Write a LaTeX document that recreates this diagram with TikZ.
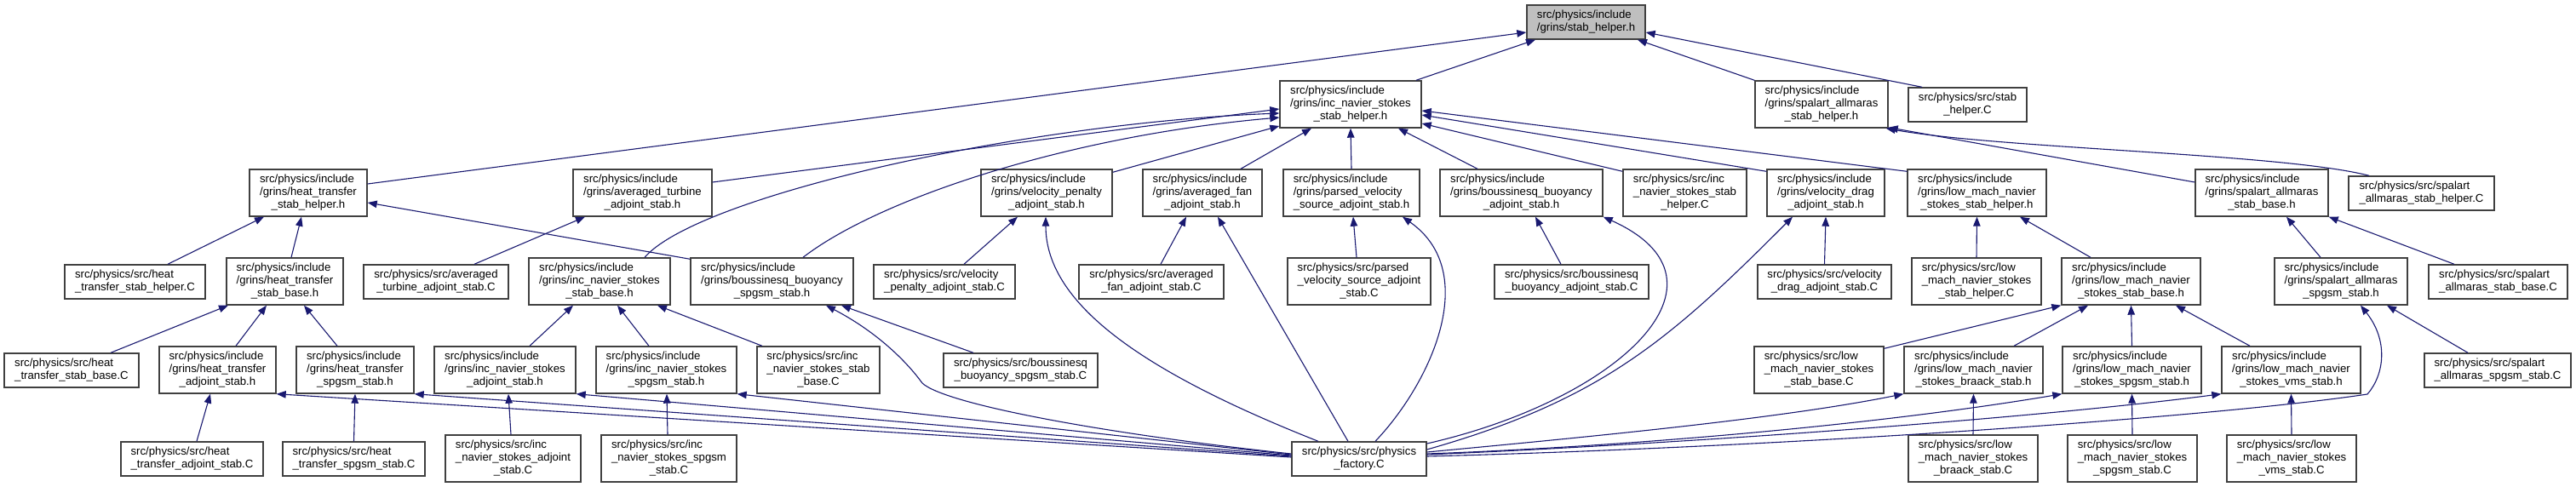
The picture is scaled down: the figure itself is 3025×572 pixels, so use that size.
\documentclass[tikz,border=0pt]{standalone}
\usepackage{fontspec}
\setmainfont{Liberation Sans}
\usetikzlibrary{arrows.meta}
\definecolor{edgeblue}{HTML}{191970}
\definecolor{boxgray}{HTML}{BFBFBF}
\definecolor{boxline}{HTML}{404040}
\newcommand\lbl[2]{\begin{tabular}{@{}l@{}}#1\\\multicolumn{1}{@{}c@{}}{#2}\end{tabular}}
\newcommand\bx[7][]{\node[box,#1,minimum width={(#5-#3)*1pt},minimum height={(#6-#4)*1pt}] (#2) at ({(#3+#5)/2},{(#4+#6)/2}) {#7};}
\begin{document}
\begin{tikzpicture}[x=1pt,y=-1pt,
  box/.style={draw=boxline,line width=1.4pt,fill=white,inner sep=0pt,font=\fontsize{13.2}{15}\selectfont},
  dep/.style={draw=edgeblue,line width=1.1pt,-{Triangle[length=11pt,width=8.5pt]}}]
\useasboundingbox (0,0) rectangle (3025,572);
% row 0-1
\bx[fill=boxgray]{sh}{1793}{6}{1932}{46}{\lbl{src/physics/include}{/grins/stab\_helper.h}}
\bx{insh}{1503}{95}{1669}{150}{\lbl{src/physics/include\\/grins/inc\_navier\_stokes}{\_stab\_helper.h}}
\bx{sash}{2061}{95}{2217}{150}{\lbl{src/physics/include\\/grins/spalart\_allmaras}{\_stab\_helper.h}}
\bx{shC}{2241}{103}{2380}{143}{\lbl{src/physics/src/stab}{\_helper.C}}
% row 2
\bx{htsh}{293}{199}{431}{254}{\lbl{src/physics/include\\/grins/heat\_transfer}{\_stab\_helper.h}}
\bx{atas}{673}{199}{836}{254}{\lbl{src/physics/include\\/grins/averaged\_turbine}{\_adjoint\_stab.h}}
\bx{vpas}{1152}{199}{1306}{254}{\lbl{src/physics/include\\/grins/velocity\_penalty}{\_adjoint\_stab.h}}
\bx{afas}{1342}{199}{1482}{254}{\lbl{src/physics/include\\/grins/averaged\_fan}{\_adjoint\_stab.h}}
\bx{pvsas}{1507}{199}{1667}{254}{\lbl{src/physics/include\\/grins/parsed\_velocity}{\_source\_adjoint\_stab.h}}
\bx{bbas}{1691}{199}{1882}{254}{\lbl{src/physics/include\\/grins/boussinesq\_buoyancy}{\_adjoint\_stab.h}}
\bx{inshC}{1906}{199}{2051}{254}{\lbl{src/physics/src/inc\\\_navier\_stokes\_stab}{\_helper.C}}
\bx{vdas}{2075}{199}{2213}{254}{\lbl{src/physics/include\\/grins/velocity\_drag}{\_adjoint\_stab.h}}
\bx{lmsh}{2240}{199}{2403}{254}{\lbl{src/physics/include\\/grins/low\_mach\_navier}{\_stokes\_stab\_helper.h}}
\bx{sasb}{2578}{199}{2734}{254}{\lbl{src/physics/include\\/grins/spalart\_allmaras}{\_stab\_base.h}}
\bx{sashC}{2758}{207}{2929}{247}{\lbl{src/physics/src/spalart}{\_allmaras\_stab\_helper.C}}
% row 3
\bx{htshC}{76}{311}{241}{351}{\lbl{src/physics/src/heat}{\_transfer\_stab\_helper.C}}
\bx{htsb}{266}{303}{403}{358}{\lbl{src/physics/include\\/grins/heat\_transfer}{\_stab\_base.h}}
\bx{atasC}{427}{311}{597}{351}{\lbl{src/physics/src/averaged}{\_turbine\_adjoint\_stab.C}}
\bx{insb}{621}{303}{787}{358}{\lbl{src/physics/include\\/grins/inc\_navier\_stokes}{\_stab\_base.h}}
\bx{bbss}{811}{303}{1002}{358}{\lbl{src/physics/include\\/grins/boussinesq\_buoyancy}{\_spgsm\_stab.h}}
\bx{vpasC}{1026}{311}{1192}{351}{\lbl{src/physics/src/velocity}{\_penalty\_adjoint\_stab.C}}
\bx{afasC}{1267}{311}{1437}{351}{\lbl{src/physics/src/averaged}{\_fan\_adjoint\_stab.C}}
\bx{pvsasC}{1512}{303}{1680}{358}{\lbl{src/physics/src/parsed\\\_velocity\_source\_adjoint}{\_stab.C}}
\bx{bbasC}{1755}{311}{1936}{351}{\lbl{src/physics/src/boussinesq}{\_buoyancy\_adjoint\_stab.C}}
\bx{vdasC}{2064}{311}{2221}{351}{\lbl{src/physics/src/velocity}{\_drag\_adjoint\_stab.C}}
\bx{lmshC}{2245}{303}{2397}{358}{\lbl{src/physics/src/low\\\_mach\_navier\_stokes}{\_stab\_helper.C}}
\bx{lmsb}{2421}{303}{2584}{358}{\lbl{src/physics/include\\/grins/low\_mach\_navier}{\_stokes\_stab\_base.h}}
\bx{sass}{2671}{303}{2827}{358}{\lbl{src/physics/include\\/grins/spalart\_allmaras}{\_spgsm\_stab.h}}
\bx{sasbC}{2852}{311}{3015}{351}{\lbl{src/physics/src/spalart}{\_allmaras\_stab\_base.C}}
% row 4
\bx{htsbC}{5}{415}{163}{455}{\lbl{src/physics/src/heat}{\_transfer\_stab\_base.C}}
\bx{htas}{187}{407}{324}{462}{\lbl{src/physics/include\\/grins/heat\_transfer}{\_adjoint\_stab.h}}
\bx{htss}{348}{407}{486}{462}{\lbl{src/physics/include\\/grins/heat\_transfer}{\_spgsm\_stab.h}}
\bx{inas}{510}{407}{676}{462}{\lbl{src/physics/include\\/grins/inc\_navier\_stokes}{\_adjoint\_stab.h}}
\bx{inss}{700}{407}{865}{462}{\lbl{src/physics/include\\/grins/inc\_navier\_stokes}{\_spgsm\_stab.h}}
\bx{insbC}{889}{407}{1033}{462}{\lbl{src/physics/src/inc\\\_navier\_stokes\_stab}{\_base.C}}
\bx{bbssC}{1108}{415}{1289}{455}{\lbl{src/physics/src/boussinesq}{\_buoyancy\_spgsm\_stab.C}}
\bx{lmsbC}{2060}{407}{2212}{462}{\lbl{src/physics/src/low\\\_mach\_navier\_stokes}{\_stab\_base.C}}
\bx{lmbs}{2236}{407}{2399}{462}{\lbl{src/physics/include\\/grins/low\_mach\_navier}{\_stokes\_braack\_stab.h}}
\bx{lmss}{2422}{407}{2585}{462}{\lbl{src/physics/include\\/grins/low\_mach\_navier}{\_stokes\_spgsm\_stab.h}}
\bx{lmvs}{2609}{407}{2772}{462}{\lbl{src/physics/include\\/grins/low\_mach\_navier}{\_stokes\_vms\_stab.h}}
\bx{sassC}{2847}{415}{3019}{455}{\lbl{src/physics/src/spalart}{\_allmaras\_spgsm\_stab.C}}
% row 5
\bx{htasC}{142}{519}{309}{559}{\lbl{src/physics/src/heat}{\_transfer\_adjoint\_stab.C}}
\bx{htssC}{332}{519}{499}{559}{\lbl{src/physics/src/heat}{\_transfer\_spgsm\_stab.C}}
\bx{inasC}{523}{511}{682}{566}{\lbl{src/physics/src/inc\\\_navier\_stokes\_adjoint}{\_stab.C}}
\bx{inssC}{706}{511}{865}{566}{\lbl{src/physics/src/inc\\\_navier\_stokes\_spgsm}{\_stab.C}}
\bx{pf}{1517}{519}{1675}{559}{\lbl{src/physics/src/physics}{\_factory.C}}
\bx{lmbsC}{2241}{511}{2393}{566}{\lbl{src/physics/src/low\\\_mach\_navier\_stokes}{\_braack\_stab.C}}
\bx{lmssC}{2428}{511}{2580}{566}{\lbl{src/physics/src/low\\\_mach\_navier\_stokes}{\_spgsm\_stab.C}}
\bx{lmvsC}{2615}{511}{2767}{566}{\lbl{src/physics/src/low\\\_mach\_navier\_stokes}{\_vms\_stab.C}}
% edges to stab_helper.h
\draw[dep] ([yshift=10.5pt]htsh.east) -- ([yshift=-12pt]sh.west);
\draw[dep] ([xshift=77pt]insh.north) -- ([xshift=-59.5pt]sh.south);
\draw[dep] (sash.north west) -- ([xshift=60.5pt]sh.south);
\draw[dep] ([xshift=-53.5pt]shC.north) -- ([yshift=-12pt]sh.east);
% edges to inc_navier_stokes_stab_helper.h
\draw[dep] ([yshift=12.5pt]atas.east) -- ([yshift=-5.5pt]insh.west);
\draw[dep] ([xshift=53pt]insb.north) .. controls (820,230) and (1200,145) .. ([yshift=-10.5pt]insh.west);
\draw[dep] ([xshift=36.5pt]bbss.north) .. controls (1030,235) and (1250,160) .. ([yshift=-15.5pt]insh.west);
\draw[dep] ([yshift=-4pt]vpas.north east) -- ([yshift=-25.5pt]insh.west);
\draw[dep] ([xshift=45pt]afas.north) -- ([xshift=-46pt]insh.south);
\draw[dep] (pvsas.north) -- (insh.south);
\draw[dep] ([xshift=-51.5pt]bbas.north) -- ([xshift=56pt]insh.south);
\draw[dep] ([yshift=-3pt]inshC.north west) -- ([yshift=-22.5pt]insh.east);
\draw[dep] ([yshift=-3pt]vdas.north west) -- ([yshift=-12.5pt]insh.east);
\draw[dep] ([yshift=-3pt]lmsh.north west) -- ([yshift=-7.5pt]insh.east);
% spalart helper
\draw[dep] ([yshift=12.5pt]sasb.west) -- ([yshift=1pt]sash.south east);
\draw[dep] ([xshift=-61.5pt]sashC.north) .. controls (2680,180) and (2350,175) .. ([xshift=-3pt]sash.south east);
% inc ns stab base
\draw[dep] ([xshift=29pt]inas.north) -- ([xshift=-31pt]insb.south);
\draw[dep] ([xshift=-20.5pt]inss.north) -- ([xshift=21pt]insb.south);
\draw[dep] ([xshift=-66pt]insbC.north) -- ([xshift=68pt]insb.south);
% boussinesq spgsm
\draw[dep] ([xshift=-55.5pt]bbssC.north) -- ([xshift=81.5pt]bbss.south);
\draw[dep] ([yshift=6pt]pf.west) .. controls (1300,510) and (1110,475) .. (1083,450) .. controls (1065,425) and (1030,390) .. ([xshift=63.5pt]bbss.south);
% heat transfer
\draw[dep] ([xshift=38.5pt]htshC.north) -- ([xshift=-52pt]htsh.south);
\draw[dep] ([xshift=7.5pt]htsb.north) -- ([xshift=-8pt]htsh.south);
\draw[dep] ([yshift=-2pt]bbss.north west) -- ([yshift=-11.5pt]htsh.east);
\draw[dep] ([xshift=46pt]htsbC.north) -- ([xshift=-66.5pt]htsb.south);
\draw[dep] ([xshift=21.5pt]htas.north) -- ([xshift=-21.5pt]htsb.south);
\draw[dep] ([xshift=-21pt]htss.north) -- ([xshift=22.5pt]htsb.south);
\draw[dep] ([xshift=5.5pt]htasC.north) -- ([xshift=-8.5pt]htas.south);
\draw[dep] (htssC.north) -- (htss.south);
% physics factory
\draw[dep] ([yshift=2pt]pf.west) -- (htas.south east);
\draw[dep] ([yshift=3pt]pf.west) -- (htss.south east);
\draw[dep] ([yshift=4pt]pf.west) -- (inas.south east);
\draw[dep] ([yshift=5pt]pf.west) -- (inss.south east);
\draw[dep] ([xshift=-48pt]pf.north) .. controls (1350,440) and (1228,360) .. ([xshift=-1pt]vpas.south);
\draw[dep] ([xshift=-13pt]pf.north) -- ([xshift=18pt]afas.south);
\draw[dep] ([xshift=19pt]pf.north) .. controls (1680,450) and (1740,320) .. ([xshift=60pt]pvsas.south);
\draw[dep] ([yshift=18pt]pf.east) .. controls (1900,470) and (2050,330) .. (bbas.south east);
\draw[dep] ([yshift=11pt]pf.east) .. controls (1880,470) and (1960,400) .. ([xshift=-39pt]vdas.south);
\draw[dep] ([yshift=8pt]pf.east) .. controls (1900,510) and (2100,490) .. (lmbs.south west);
\draw[dep] ([yshift=6pt]pf.east) .. controls (1900,525) and (2200,500) .. (lmss.south west);
\draw[dep] ([yshift=5pt]pf.east) .. controls (2000,520) and (2400,490) .. (lmvs.south west);
\draw[dep] ([yshift=3pt]pf.east) .. controls (2100,525) and (2600,490) .. (2780,463) .. controls (2800,440) and (2805,400) .. ([xshift=23pt]sass.south);
% low mach
\draw[dep] (lmshC.north) -- (lmsh.south);
\draw[dep] ([xshift=-47.5pt]lmsb.north) -- ([xshift=50.5pt]lmsh.south);
\draw[dep] ([yshift=-3pt]lmsbC.north east) -- (lmsb.south west);
\draw[dep] ([xshift=47.5pt]lmbs.north) -- ([xshift=-50.5pt]lmsb.south);
\draw[dep] (lmss.north) -- (lmsb.south);
\draw[dep] ([xshift=-48.5pt]lmvs.north) -- ([xshift=52.5pt]lmsb.south);
\draw[dep] (lmbsC.north) -- (lmbs.south);
\draw[dep] (lmssC.north) -- (lmss.south);
\draw[dep] (lmvsC.north) -- (lmvs.south);
% spalart
\draw[dep] ([xshift=-24pt]sass.north) -- ([xshift=29pt]sasb.south);
\draw[dep] ([xshift=-51.5pt]sasbC.north) -- (sasb.south east);
\draw[dep] ([xshift=-35pt]sassC.north) -- ([xshift=54pt]sass.south);
% others
\draw[dep] ([xshift=23pt]vpasC.north) -- ([xshift=-34pt]vpas.south);
\draw[dep] ([xshift=11pt]afasC.north) -- ([xshift=-19pt]afas.south);
\draw[dep] ([xshift=-3pt]pvsasC.north) -- ([xshift=2pt]pvsas.south);
\draw[dep] ([xshift=-12.5pt]bbasC.north) -- ([xshift=16.5pt]bbas.south);
\draw[dep] (vdasC.north) -- (vdas.south);
\draw[dep] ([xshift=45pt]atasC.north) -- ([xshift=-67.5pt]atas.south);
\draw[dep] ([xshift=-2.5pt]inasC.north) -- ([xshift=4pt]inas.south);
\draw[dep] ([xshift=-1.5pt]inssC.north) -- ([xshift=0.5pt]inss.south);
\end{tikzpicture}
\end{document}
